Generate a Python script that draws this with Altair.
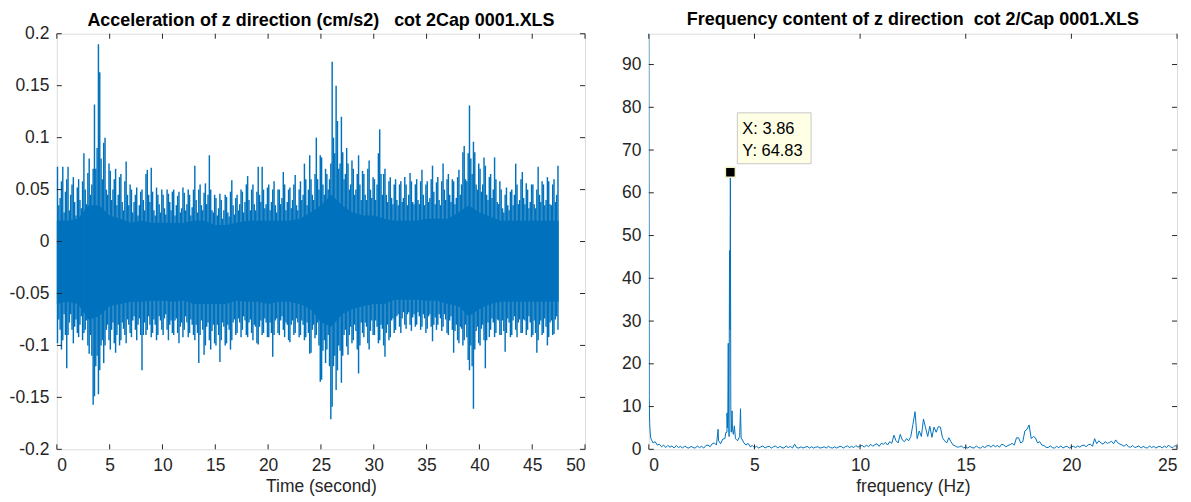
import altair as alt
import pandas as pd

BLUE = "#0072BD"
AXC = "#262626"
FONT = "Liberation Sans"

# ---------------- Left panel: acceleration time history ----------------
ACC_TITLE = "Acceleration of z direction (cm/s2)\u00a0\u00a0 cot 2Cap 0001.XLS"
ACC_XTICKS = [0, 5, 10, 15, 20, 25, 30, 35, 40, 45, 50]
ACC_YTICKS = [-0.2, -0.15, -0.1, -0.05, 0, 0.05, 0.1, 0.15, 0.2]
BIN_STEP = 0.25  # seconds per envelope bin

# extreme (spike) top / bottom of the signal in each 0.25 s bin
ACC_HI = [
    0.072, 0.058, 0.072, 0.06, 0.072, 0.055, 0.062, 0.052, 0.06, 0.058, 0.085, 0.066,
    0.08, 0.07, 0.132, 0.19, 0.163, 0.095, 0.1, 0.075, 0.068, 0.06, 0.07, 0.062,
    0.065, 0.058, 0.077, 0.055, 0.05, 0.045, 0.052, 0.048, 0.05, 0.065, 0.069, 0.071,
    0.048, 0.052, 0.045, 0.05, 0.045, 0.05, 0.046, 0.048, 0.05, 0.044, 0.048, 0.052,
    0.047, 0.05, 0.045, 0.05, 0.073, 0.05, 0.055, 0.047, 0.056, 0.083, 0.05, 0.045,
    0.042, 0.046, 0.04, 0.045, 0.043, 0.048, 0.059, 0.042, 0.045, 0.05, 0.048, 0.055,
    0.063, 0.05, 0.055, 0.048, 0.072, 0.072, 0.05, 0.052, 0.055, 0.05, 0.058, 0.05,
    0.05, 0.067, 0.055, 0.05, 0.052, 0.055, 0.064, 0.05, 0.058, 0.075, 0.06, 0.083,
    0.06, 0.065, 0.1, 0.083, 0.081, 0.07, 0.065, 0.075, 0.173, 0.15, 0.116, 0.12,
    0.086, 0.09, 0.075, 0.078, 0.07, 0.065, 0.083, 0.068, 0.065, 0.07, 0.078, 0.062,
    0.06, 0.085, 0.108, 0.065, 0.07, 0.058, 0.062, 0.055, 0.06, 0.055, 0.058, 0.062,
    0.055, 0.066, 0.058, 0.055, 0.06, 0.058, 0.069, 0.055, 0.058, 0.06, 0.073, 0.057,
    0.062, 0.058, 0.075, 0.06, 0.065, 0.06, 0.058, 0.062, 0.069, 0.086, 0.092, 0.085,
    0.131, 0.096, 0.086, 0.075, 0.07, 0.081, 0.073, 0.062, 0.065, 0.081, 0.06, 0.058,
    0.05, 0.045, 0.052, 0.048, 0.05, 0.075, 0.055, 0.06, 0.067, 0.056, 0.05, 0.055,
    0.055, 0.05, 0.072, 0.058, 0.055, 0.062, 0.058, 0.055, 0.06, 0.073,
]
ACC_LO = [
    -0.098, -0.104, -0.095, -0.122, -0.09, -0.085, -0.098, -0.088, -0.092, -0.095, -0.088, -0.1,
    -0.108, -0.157, -0.149, -0.147, -0.124, -0.117, -0.1, -0.095, -0.104, -0.098, -0.107, -0.1,
    -0.095, -0.09, -0.098, -0.088, -0.092, -0.085, -0.095, -0.09, -0.124, -0.09, -0.085, -0.092,
    -0.088, -0.095, -0.09, -0.085, -0.09, -0.085, -0.095, -0.088, -0.09, -0.088, -0.098, -0.092,
    -0.085, -0.092, -0.088, -0.09, -0.095, -0.117, -0.09, -0.109, -0.1, -0.095, -0.104, -0.098,
    -0.1, -0.116, -0.095, -0.1, -0.098, -0.104, -0.095, -0.09, -0.088, -0.092, -0.085, -0.09,
    -0.092, -0.088, -0.095, -0.098, -0.099, -0.09, -0.088, -0.092, -0.092, -0.111, -0.09, -0.088,
    -0.09, -0.085, -0.092, -0.095, -0.097, -0.09, -0.088, -0.092, -0.09, -0.095, -0.092, -0.108,
    -0.107, -0.093, -0.09, -0.135, -0.133, -0.117, -0.104, -0.171, -0.159, -0.143, -0.124, -0.136,
    -0.11, -0.101, -0.109, -0.098, -0.095, -0.104, -0.127, -0.088, -0.092, -0.098, -0.104, -0.09,
    -0.09, -0.098, -0.095, -0.1, -0.111, -0.095, -0.092, -0.088, -0.085, -0.082, -0.088, -0.08,
    -0.084, -0.08, -0.086, -0.082, -0.08, -0.085, -0.082, -0.088, -0.084, -0.082, -0.096, -0.085,
    -0.08, -0.086, -0.082, -0.088, -0.09, -0.085, -0.107, -0.095, -0.098, -0.1, -0.095, -0.114,
    -0.124, -0.161, -0.104, -0.098, -0.1, -0.095, -0.122, -0.092, -0.085, -0.092, -0.088, -0.09,
    -0.09, -0.106, -0.088, -0.092, -0.09, -0.085, -0.092, -0.088, -0.088, -0.09, -0.085, -0.092,
    -0.09, -0.107, -0.095, -0.09, -0.088, -0.1, -0.092, -0.09, -0.089, -0.085,
]
# typical (non-spike) top / bottom of the signal in the same bins
ACC_HI2 = [
    0.035, 0.042, 0.028, 0.048, 0.03, 0.045, 0.038, 0.025, 0.04, 0.032, 0.05, 0.036,
    0.045, 0.055, 0.07, 0.09, 0.08, 0.06, 0.05, 0.045, 0.04, 0.05, 0.035, 0.045,
    0.038, 0.03, 0.045, 0.035, 0.028, 0.038, 0.025, 0.035, 0.04, 0.03, 0.045, 0.038,
    0.03, 0.025, 0.036, 0.028, 0.032, 0.026, 0.038, 0.03, 0.025, 0.035, 0.028, 0.032,
    0.03, 0.036, 0.025, 0.033, 0.04, 0.028, 0.035, 0.03, 0.036, 0.045, 0.03, 0.028,
    0.025, 0.032, 0.022, 0.03, 0.028, 0.024, 0.035, 0.026, 0.03, 0.036, 0.028, 0.038,
    0.04, 0.03, 0.036, 0.03, 0.045, 0.038, 0.032, 0.036, 0.03, 0.038, 0.035, 0.028,
    0.036, 0.042, 0.03, 0.038, 0.032, 0.04, 0.035, 0.03, 0.04, 0.045, 0.035, 0.05,
    0.045, 0.04, 0.06, 0.05, 0.055, 0.045, 0.05, 0.06, 0.1, 0.085, 0.07, 0.075,
    0.06, 0.065, 0.05, 0.055, 0.045, 0.05, 0.055, 0.04, 0.045, 0.04, 0.05, 0.042,
    0.04, 0.055, 0.065, 0.045, 0.045, 0.038, 0.042, 0.036, 0.04, 0.035, 0.038, 0.042,
    0.035, 0.045, 0.038, 0.036, 0.04, 0.036, 0.045, 0.035, 0.038, 0.042, 0.048, 0.036,
    0.04, 0.035, 0.05, 0.04, 0.045, 0.038, 0.036, 0.042, 0.045, 0.055, 0.06, 0.058,
    0.08, 0.065, 0.055, 0.05, 0.048, 0.055, 0.045, 0.04, 0.042, 0.05, 0.038, 0.036,
    0.032, 0.028, 0.035, 0.03, 0.035, 0.045, 0.036, 0.04, 0.042, 0.036, 0.032, 0.038,
    0.036, 0.032, 0.045, 0.038, 0.035, 0.04, 0.036, 0.035, 0.038, 0.045,
]
ACC_LO2 = [
    -0.075, -0.085, -0.07, -0.09, -0.078, -0.07, -0.082, -0.075, -0.08, -0.072, -0.085, -0.076,
    -0.09, -0.11, -0.12, -0.11, -0.1, -0.095, -0.085, -0.08, -0.085, -0.078, -0.09, -0.08,
    -0.078, -0.084, -0.075, -0.08, -0.076, -0.072, -0.08, -0.074, -0.09, -0.078, -0.072, -0.08,
    -0.075, -0.08, -0.072, -0.076, -0.074, -0.07, -0.08, -0.076, -0.076, -0.074, -0.082, -0.078,
    -0.072, -0.078, -0.075, -0.08, -0.08, -0.088, -0.076, -0.085, -0.082, -0.078, -0.086, -0.08,
    -0.08, -0.09, -0.078, -0.082, -0.08, -0.085, -0.078, -0.075, -0.074, -0.078, -0.072, -0.076,
    -0.078, -0.075, -0.08, -0.082, -0.082, -0.076, -0.074, -0.078, -0.078, -0.088, -0.076, -0.074,
    -0.076, -0.072, -0.078, -0.08, -0.08, -0.076, -0.074, -0.078, -0.076, -0.08, -0.078, -0.088,
    -0.085, -0.08, -0.078, -0.1, -0.105, -0.095, -0.09, -0.12, -0.12, -0.11, -0.1, -0.105,
    -0.09, -0.085, -0.09, -0.082, -0.08, -0.086, -0.1, -0.078, -0.078, -0.082, -0.086, -0.076,
    -0.076, -0.082, -0.08, -0.084, -0.088, -0.08, -0.076, -0.074, -0.072, -0.07, -0.074, -0.068,
    -0.07, -0.068, -0.073, -0.07, -0.068, -0.072, -0.07, -0.074, -0.072, -0.07, -0.08, -0.073,
    -0.07, -0.074, -0.07, -0.075, -0.076, -0.072, -0.086, -0.08, -0.082, -0.084, -0.08, -0.092,
    -0.1, -0.12, -0.086, -0.082, -0.084, -0.08, -0.095, -0.078, -0.074, -0.078, -0.075, -0.076,
    -0.076, -0.086, -0.074, -0.078, -0.076, -0.072, -0.078, -0.075, -0.075, -0.076, -0.072, -0.078,
    -0.076, -0.088, -0.08, -0.076, -0.074, -0.082, -0.078, -0.076, -0.075, -0.072,
]

# dense solid core of the signal (per second)
CORE_T = [0, 1, 2, 3, 4, 5, 6, 7, 8, 9, 10, 11, 12, 13, 14, 15, 16, 17, 18, 19, 20, 21, 22, 23,
          24, 25, 26, 27, 28, 29, 30, 31, 32, 33, 34, 35, 36, 37, 38, 39, 40, 41, 42, 43, 44, 45,
          46, 47, 47.5]
CORE_HI = [0.02, 0.02, 0.022, 0.035, 0.035, 0.025, 0.022, 0.018, 0.02, 0.018, 0.018, 0.018,
           0.018, 0.02, 0.02, 0.016, 0.016, 0.018, 0.02, 0.02, 0.02, 0.02, 0.02, 0.022,
           0.028, 0.035, 0.045, 0.035, 0.028, 0.025, 0.025, 0.022, 0.02, 0.02, 0.02, 0.022,
           0.022, 0.022, 0.028, 0.035, 0.028, 0.024, 0.02, 0.02, 0.02, 0.02, 0.02, 0.02, 0.02]
CORE_LO = [-0.06, -0.058, -0.06, -0.075, -0.072, -0.062, -0.06, -0.058, -0.058, -0.057, -0.057,
           -0.058, -0.057, -0.06, -0.06, -0.06, -0.06, -0.057, -0.058, -0.058, -0.06, -0.058,
           -0.058, -0.06, -0.065, -0.078, -0.082, -0.07, -0.065, -0.062, -0.06, -0.06, -0.056,
           -0.056, -0.056, -0.057, -0.057, -0.06, -0.062, -0.072, -0.065, -0.06, -0.058, -0.058,
           -0.058, -0.058, -0.058, -0.058, -0.058]

# ---------------- Right panel: frequency content ----------------
FFT_TITLE = "Frequency content of z direction\u00a0 cot 2/Cap 0001.XLS"
FFT_XTICKS = [0, 5, 10, 15, 20, 25]
FFT_YTICKS = [0, 10, 20, 30, 40, 50, 60, 70, 80, 90]
FFT_YMAX = 97.2
BASE_STEP = 0.1  # Hz, background spectrum sampled every 0.1 Hz from 0.1 to 25.0
BASE_AMP = [
    2.5, 1.5, 1.8, 1.0, 1.2, 0.6, 1.0, 0.4, 0.9, 0.5,
    0.8, 0.3, 0.9, 0.4, 0.7, 0.3, 0.8, 0.4, 0.3, 0.7,
    0.4, 0.3, 0.8, 0.4, 0.7, 0.3, 0.9, 1.0, 0.6, 1.3,
    1.5, 1.0, 2.0, 1.3, 2.4, 2.5, 4.0, 3.0, 4.0, 3.5,
    2.5, 2.0, 3.0, 2.5, 1.5, 1.0, 1.4, 0.6, 0.9, 0.4,
    0.7, 0.3, 0.6, 0.8, 0.3, 0.6, 0.7, 0.3, 0.6, 0.8,
    0.3, 0.7, 0.4, 0.3, 0.8, 0.4, 0.7, 0.3, 1.2, 0.4,
    0.3, 0.6, 0.3, 0.5, 0.7, 0.3, 0.6, 0.3, 0.5, 0.6,
    0.3, 0.4, 0.6, 0.3, 0.7, 0.4, 0.3, 0.6, 0.3, 0.6,
    0.7, 0.3, 0.6, 0.8, 0.4, 0.7, 0.4, 0.9, 0.5, 0.8,
    0.9, 0.5, 1.0, 0.6, 1.2, 0.7, 1.1, 1.3, 0.7, 1.4,
    1.2, 1.6, 1.0, 1.8, 1.4, 3.3, 2.0, 1.5, 3.5, 2.2,
    1.8, 2.5, 2.0, 3.0, 5.8, 8.8, 2.5, 4.3, 3.0, 7.1,
    5.0, 3.0, 5.4, 2.8, 5.2, 4.0, 5.3, 5.2, 2.7, 2.0,
    1.5, 2.7, 1.8, 1.0, 0.8, 0.5, 0.6, 0.8, 0.3, 0.6,
    0.3, 0.7, 0.4, 0.3, 0.8, 0.4, 0.3, 0.7, 0.4, 0.8,
    0.9, 0.5, 1.0, 0.6, 0.9, 0.5, 1.2, 1.0, 0.6, 0.9,
    1.1, 1.4, 1.0, 2.7, 2.7, 1.5, 1.8, 4.3, 4.7, 5.7,
    2.5, 3.0, 2.7, 1.5, 1.8, 1.0, 0.9, 0.5, 0.4, 0.8,
    0.4, 0.3, 0.7, 0.4, 0.8, 0.3, 0.6, 0.7, 0.3, 0.6,
    0.7, 0.4, 0.8, 0.5, 0.9, 1.0, 0.6, 1.1, 1.2, 0.7,
    2.5, 1.3, 2.0, 1.5, 1.2, 1.8, 1.4, 1.6, 1.9, 1.3,
    2.2, 1.5, 1.2, 1.0, 0.7, 1.2, 0.6, 0.5, 0.9, 0.4,
    0.6, 0.8, 0.3, 0.7, 0.4, 0.3, 0.8, 0.4, 0.7, 0.3,
    0.6, 0.7, 0.3, 0.8, 0.4, 1.0, 0.5, 0.4, 0.9, 0.5,
]
PEAK_F = [0.0, 0.02, 0.04, 0.06, 0.08, 3.28, 3.65, 3.70, 3.72, 3.74, 3.76, 3.78, 3.80, 3.82,
          3.84, 3.86, 3.88, 3.92, 3.94, 3.96, 4.05, 4.34, 4.37]
PEAK_AMP = [97.2, 12.4, 6.0, 4.3, 3.1, 4.7, 4.0, 8.5, 5.0, 9.0, 24.8, 7.0, 12.0, 46.5,
            28.0, 64.83, 10.5, 6.0, 9.0, 4.7, 5.5, 9.5, 2.5]
TIP_F = 3.86
TIP_AMP = 64.83
TIP_LINES = ["X: 3.86", "Y: 64.83"]

W, H = 530, 417
LABEL_FS = 17.5
TITLE_FS = 18

# ---------------- data tables ----------------
col_x, col_lo, col_hi = [], [], []
for i in range(len(ACC_HI)):
    first, second = (0.25, 0.75) if i % 2 == 0 else (0.75, 0.25)
    col_x += [BIN_STEP * (i + first), BIN_STEP * (i + second)]
    col_hi += [ACC_HI[i], ACC_HI2[i]]
    col_lo += [ACC_LO[i], ACC_LO2[i]]
acc_df = pd.DataFrame({"x": col_x, "y": col_lo, "y2": col_hi})
core_df = pd.DataFrame({"x": CORE_T, "y": CORE_LO, "y2": CORE_HI})
acc_xt = pd.DataFrame({"x": ACC_XTICKS})
acc_yt = pd.DataFrame({"y": ACC_YTICKS})

fft_f = [round(BASE_STEP * (i + 1), 2) for i in range(len(BASE_AMP))] + PEAK_F
fft_a = BASE_AMP + PEAK_AMP
fft_df = pd.DataFrame({"x": fft_f, "y": fft_a}).sort_values("x", kind="stable")
fft_xt = pd.DataFrame({"x": FFT_XTICKS})
fft_yt = pd.DataFrame({"y": FFT_YTICKS})
tip_df = pd.DataFrame({"x": [TIP_F], "y": [TIP_AMP]})

label_style = dict(labelFontSize=LABEL_FS, labelColor=AXC, labelFont=FONT,
                   titleFontSize=LABEL_FS, titleColor=AXC, titleFont=FONT,
                   titleFontWeight="normal", ticks=False, domain=False, grid=False)


def tick_layers(xt, yt, xs, ys):
    tb = alt.Chart(xt).mark_rule(color=AXC, strokeWidth=1).encode(
        x=alt.X("x:Q", scale=xs), y=alt.value(H), y2=alt.value(H - 5))
    tt = alt.Chart(xt).mark_rule(color=AXC, strokeWidth=1).encode(
        x=alt.X("x:Q", scale=xs), y=alt.value(0), y2=alt.value(5))
    tl = alt.Chart(yt).mark_rule(color=AXC, strokeWidth=1).encode(
        y=alt.Y("y:Q", scale=ys), x=alt.value(0), x2=alt.value(5))
    tr = alt.Chart(yt).mark_rule(color=AXC, strokeWidth=1).encode(
        y=alt.Y("y:Q", scale=ys), x=alt.value(W - 5), x2=alt.value(W))
    return [tb, tt, tl, tr]


# ---------------- left chart ----------------
xs_acc = alt.Scale(domain=[0, 50], nice=False, zero=False)
ys_acc = alt.Scale(domain=[-0.2, 0.2], nice=False, zero=False)

core = alt.Chart(core_df).mark_area(color=BLUE, opacity=1).encode(
    x=alt.X("x:Q", scale=xs_acc,
            axis=alt.Axis(values=ACC_XTICKS, title="Time (second)", labelPadding=7,
                          titlePadding=4, **label_style)),
    y=alt.Y("y:Q", scale=ys_acc,
            axis=alt.Axis(values=ACC_YTICKS, title=None, labelPadding=8,
                          labelExpr="'' + datum.value", minExtent=47, maxExtent=47,
                          **label_style)),
    y2="y2:Q",
)
signal = alt.Chart(acc_df).mark_rule(color=BLUE, strokeWidth=1.45).encode(
    x=alt.X("x:Q", scale=xs_acc), y=alt.Y("y:Q", scale=ys_acc), y2="y2:Q")

left = alt.layer(core, signal, *tick_layers(acc_xt, acc_yt, xs_acc, ys_acc)).properties(
    width=W, height=H,
    title=alt.TitleParams(ACC_TITLE, fontSize=TITLE_FS, fontWeight="bold", font=FONT,
                          color="black", offset=-5),
)

# ---------------- right chart ----------------
xs_fft = alt.Scale(domain=[0, 25], nice=False, zero=False)
ys_fft = alt.Scale(domain=[0, FFT_YMAX], nice=False, zero=False)

spec = alt.Chart(fft_df).mark_line(color=BLUE, strokeWidth=1, clip=True).encode(
    x=alt.X("x:Q", scale=xs_fft,
            axis=alt.Axis(values=FFT_XTICKS, title="frequency (Hz)", labelPadding=7,
                          titlePadding=4, **label_style)),
    y=alt.Y("y:Q", scale=ys_fft,
            axis=alt.Axis(values=FFT_YTICKS, title=None, labelPadding=8,
                          minExtent=30, maxExtent=30, **label_style)),
)

box_path = "M-1,-0.69L1,-0.69L1,0.69L-1,0.69Z"
tip_box = alt.Chart(tip_df).mark_point(
    shape=box_path, size=74 * 74, filled=True, fill="#FFFFE6", stroke="#C8C8C8",
    strokeWidth=1, opacity=1, xOffset=44, yOffset=-34,
).encode(x=alt.X("x:Q", scale=xs_fft), y=alt.Y("y:Q", scale=ys_fft))
tip_marker = alt.Chart(tip_df).mark_point(
    shape="square", size=100, filled=True, fill="black", stroke="#F2F2CC",
    strokeWidth=1.5, opacity=1,
).encode(x=alt.X("x:Q", scale=xs_fft), y=alt.Y("y:Q", scale=ys_fft))
tip_text1 = alt.Chart(tip_df).mark_text(
    text=TIP_LINES[0], align="left", baseline="alphabetic", dx=12, dy=-38,
    fontSize=16.5, font=FONT, color="black",
).encode(x=alt.X("x:Q", scale=xs_fft), y=alt.Y("y:Q", scale=ys_fft))
tip_text2 = alt.Chart(tip_df).mark_text(
    text=TIP_LINES[1], align="left", baseline="alphabetic", dx=12, dy=-16,
    fontSize=16.5, font=FONT, color="black",
).encode(x=alt.X("x:Q", scale=xs_fft), y=alt.Y("y:Q", scale=ys_fft))

right = alt.layer(spec, *tick_layers(fft_xt, fft_yt, xs_fft, ys_fft),
                  tip_box, tip_marker, tip_text1, tip_text2).properties(
    width=W, height=H,
    title=alt.TitleParams(FFT_TITLE, fontSize=TITLE_FS, fontWeight="bold", font=FONT,
                          color="black", offset=4),
)

chart = alt.hconcat(left, right, spacing=32).properties(
    padding={"left": 0, "top": 2, "right": 5, "bottom": 2}
).configure_view(stroke=AXC, strokeWidth=1).configure(font=FONT, background="white")

chart.save("out.html", embed_options={"renderer": "svg", "actions": False})
